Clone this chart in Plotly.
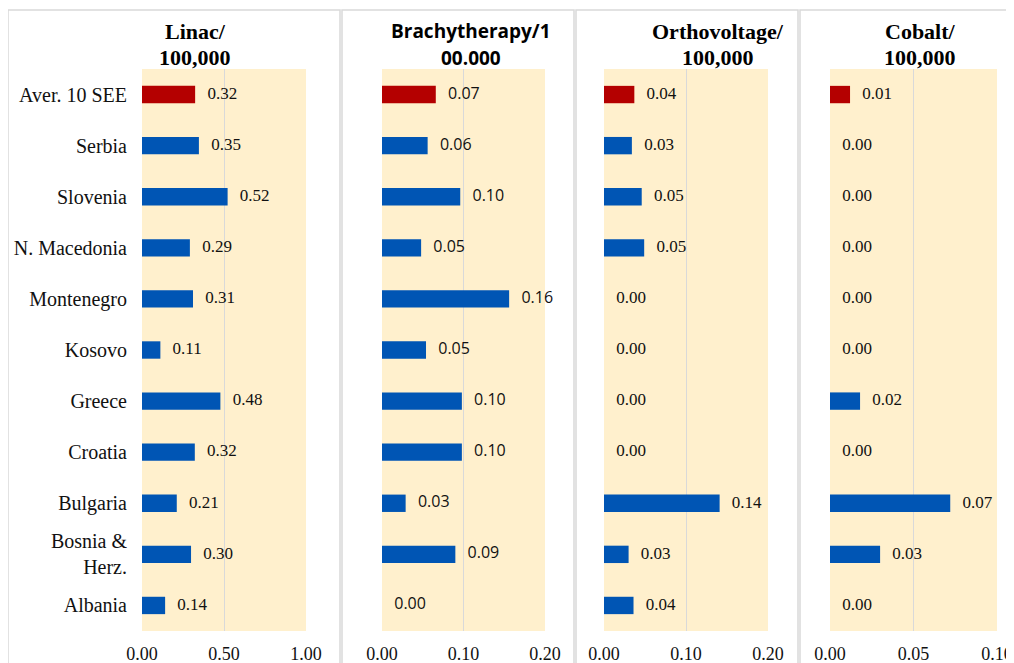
import plotly.graph_objects as go

countries = ["Aver. 10 SEE", "Serbia", "Slovenia", "N. Macedonia", "Montenegro", "Kosovo",
             "Greece", "Croatia", "Bulgaria", "Bosnia &<br>Herz.", "Albania"]

linac = [0.324, 0.347, 0.522, 0.292, 0.311, 0.112, 0.478, 0.322, 0.212, 0.299, 0.141]
brachy = [0.066, 0.056, 0.096, 0.048, 0.156, 0.054, 0.098, 0.098, 0.029, 0.090, 0.0]
ortho = [0.037, 0.034, 0.046, 0.049, 0.0, 0.0, 0.0, 0.0, 0.141, 0.030, 0.036]
cobalt = [0.012, 0.0, 0.0, 0.0, 0.0, 0.0, 0.018, 0.0, 0.072, 0.030, 0.0]

series = [linac, brachy, ortho, cobalt]
titles = [("Linac/", "100,000"), ("Brachytherapy/1", "00.000"),
          ("Orthovoltage/", "100,000"), ("Cobalt/", "100,000")]
x_max = [1.0, 0.2, 0.2, 0.1]
x_dtick = [0.5, 0.1, 0.1, 0.05]

# the page puts the plot 8px in from the top-left corner, so work in shifted pixels
OFF = 8
W, H = 1014 - OFF, 663 - OFF
SERIF = "Liberation Serif"
SANS = "Open Sans"

# reference pixel layout: plot area left/right, panel box left/right, title centre
plot_px = [(142, 306), (382, 545), (604, 768), (830, 997)]
box_px = [(8, 340), (342, 574), (576, 798), (800, 1030)]
title_px = [195, 471, 718, 920]
plot_top, plot_bottom = 69, 631


def fx(p):
    return (p - OFF) / W


def fy(p):
    return 1 - (p - OFF) / H


RED = "#B40000"
BLUE = "#0055B4"

fig = go.Figure()
layout = {}
for i, vals in enumerate(series):
    n = "" if i == 0 else str(i + 1)
    colors = [RED] + [BLUE] * (len(vals) - 1)
    fig.add_trace(go.Bar(
        x=vals, y=countries, orientation="h",
        marker=dict(color=colors, line=dict(width=0)),
        xaxis="x" + n, yaxis="y" + n, hoverinfo="skip",
    ))
    label_font = SANS if i == 1 else SERIF
    fig.add_trace(go.Scatter(
        x=vals, y=countries, mode="markers+text",
        text=[f"{v:.2f}" for v in vals], textposition="middle right",
        textfont=dict(family=label_font, size=16 if i == 1 else 17, color="#111111"),
        marker=dict(size=18, opacity=0), cliponaxis=False,
        xaxis="x" + n, yaxis="y" + n, hoverinfo="skip",
    ))
    layout["xaxis" + n] = dict(
        domain=[fx(plot_px[i][0]), fx(plot_px[i][1])],
        range=[0, x_max[i]], dtick=x_dtick[i], tick0=0, tickformat=".2f",
        showgrid=True, gridcolor="#D9D9D9", gridwidth=1.2, zeroline=False,
        showline=False, fixedrange=True, anchor="y" + n, automargin=False,
        tickfont=dict(family=SERIF, size=18, color="#111111"),
        ticklabelstandoff=10,
    )
    layout["yaxis" + n] = dict(
        domain=[fy(plot_bottom), fy(plot_top)],
        range=[len(countries) - 0.5, -0.5], anchor="x" + n, showgrid=False,
        showticklabels=(i == 0), showline=False, zeroline=False, automargin=False,
        tickfont=dict(family=SERIF, size=20, color="#111111"),
        ticklabelstandoff=14, fixedrange=True,
    )

shapes = []
for x0, x1 in box_px:
    shapes.append(dict(type="rect", xref="paper", yref="paper",
                       x0=fx(x0), x1=fx(x1), y0=-0.1, y1=fy(10),
                       line=dict(color="#D9D9D9", width=1.5), layer="below"))

annotations = []
for i, (line1, line2) in enumerate(titles):
    fam = SANS if i == 1 else SERIF
    size = 19 if i == 1 else 22
    for text, yc in ((line1, 31), (line2, 58 if i == 1 else 57)):
        annotations.append(dict(
            text="<b>" + text + "</b>", xref="paper", yref="paper",
            x=fx(title_px[i]), y=fy(yc), xanchor="center", yanchor="middle",
            showarrow=False, font=dict(family=fam, size=size, color="black"),
        ))

fig.update_layout(
    **layout,
    width=W, height=H,
    margin=dict(l=0, r=0, t=0, b=0, pad=0),
    paper_bgcolor="white", plot_bgcolor="#FFF0CD",
    showlegend=False, bargap=0.66,
    shapes=shapes, annotations=annotations,
)

fig.write_html("out.html")
